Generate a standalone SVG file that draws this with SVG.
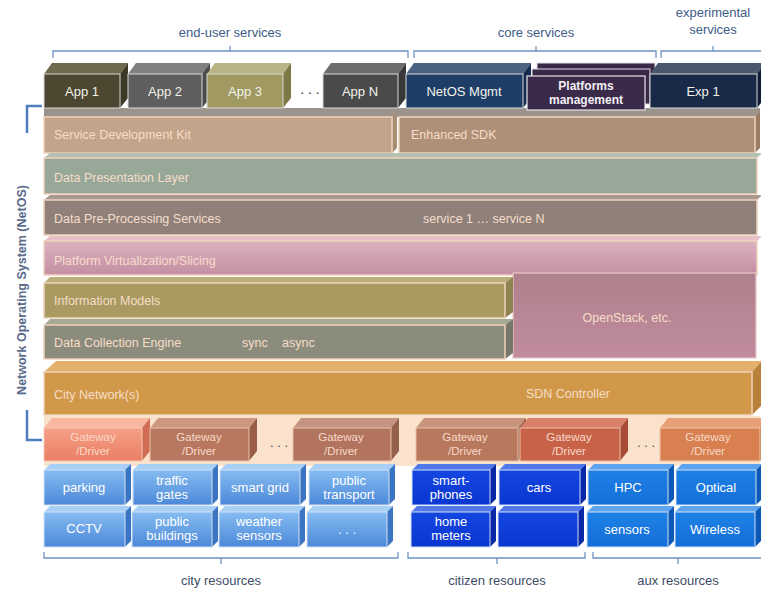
<svg xmlns="http://www.w3.org/2000/svg" width="761" height="589" viewBox="0 0 761 589">
<defs>
<style>
text{font-family:"Liberation Sans",Arial,sans-serif}
.brace{fill:none;stroke:#6f93c6;stroke-width:1.3}
.cap{fill:#3e5b86;font-size:13px;text-anchor:middle}
.capb{fill:#3d4c66;font-size:13px;text-anchor:middle}
.app{fill:#f2f2ea;font-size:13px;text-anchor:middle}
.lay{fill:#f6ddc9;font-size:12.5px}
.layc{fill:#f6ddc9;font-size:12.5px;text-anchor:middle}
.lf{stroke:#f0d2ba;stroke-width:1.5}
.gw{fill:#f7d9c8;font-size:11.5px;text-anchor:middle}
.res{fill:#ffffff;font-size:13px;text-anchor:middle}
.rf{stroke:#cfe0f5;stroke-width:1}
.af{stroke:#d8d8d8;stroke-width:1}
</style>
<linearGradient id="gCity" x1="0" y1="0" x2="0" y2="1"><stop offset="0" stop-color="#86bcf2"/><stop offset="1" stop-color="#4c88d8"/></linearGradient>
<linearGradient id="gCit" x1="0" y1="0" x2="0" y2="1"><stop offset="0" stop-color="#1446e2"/><stop offset="1" stop-color="#0a36d0"/></linearGradient>
<linearGradient id="gAux" x1="0" y1="0" x2="0" y2="1"><stop offset="0" stop-color="#1e82e6"/><stop offset="1" stop-color="#146ed8"/></linearGradient>
<linearGradient id="gPink" x1="0" y1="0" x2="0" y2="1"><stop offset="0" stop-color="#ddb2c0"/><stop offset="1" stop-color="#c48ea3"/></linearGradient>
<linearGradient id="gOS" x1="0" y1="0" x2="0" y2="1"><stop offset="0" stop-color="#b0808c"/><stop offset="1" stop-color="#c08c9e"/></linearGradient>
<linearGradient id="gGw1" x1="0" y1="0" x2="0" y2="1"><stop offset="0" stop-color="#f6a088"/><stop offset="1" stop-color="#e97e64"/></linearGradient>
</defs>
<rect width="761" height="589" fill="#ffffff"/>

<!-- braces and captions -->
<g id="captions">
<path class="brace" d="M53,58 V51 H408 V58 M230,51 V46"/>
<text class="cap" x="230" y="37">end-user services</text>
<path class="brace" d="M414,58 V51 H656 V58 M536,51 V46"/>
<text class="cap" x="536" y="37">core services</text>
<path class="brace" d="M661,58 V51 H761 M713,51 V46"/>
<text class="cap" x="713" y="17">experimental</text>
<text class="cap" x="713" y="34">services</text>
<path class="brace" d="M44,552 V558 H398 V552 M221,558 V564"/>
<text class="capb" x="221" y="585">city resources</text>
<path class="brace" d="M408,552 V558 H585 V552 M497,558 V564"/>
<text class="capb" x="497" y="585">citizen resources</text>
<path class="brace" d="M593,552 V558 H761 M678,558 V564"/>
<text class="capb" x="678" y="585">aux resources</text>
<path d="M42,106 H27 V133 M27,410 V440 H42" fill="none" stroke="#4f7fc0" stroke-width="2.5"/>
<text x="26" y="290" transform="rotate(-90 26 290)" fill="#5a6b8c" font-size="12.5" font-weight="bold" text-anchor="middle">Network Operating System (NetOS)</text>
</g>

<!-- SDK top strip -->
<rect x="44" y="108" width="716" height="9" fill="#9c948c"/>

<!-- apps -->
<g id="app1"><path d="M44,74 L52,63 H128 L120,74 Z" fill="#6e6a4e"/><path d="M120,74 L128,63 V98 L120,108 Z" fill="#3c3a26"/><rect class="af" x="44" y="74" width="76" height="34" fill="#4b4730"/><text class="app" x="82" y="96">App 1</text></g>
<g id="app2"><path d="M128,74 L136,63 H210 L202,74 Z" fill="#808080"/><path d="M202,74 L210,63 V98 L202,108 Z" fill="#4c4c4c"/><rect class="af" x="128" y="74" width="74" height="34" fill="#5e5e5e"/><text class="app" x="165" y="96">App 2</text></g>
<g id="app3"><path d="M207,74 L215,63 H291 L283,74 Z" fill="#bab386"/><path d="M283,74 L291,63 V98 L283,108 Z" fill="#7e7846"/><rect class="af" x="207" y="74" width="76" height="34" fill="#a09a62"/><text class="app" x="245" y="96">App 3</text></g>
<text x="310" y="94" fill="#333" font-size="14" text-anchor="middle" font-family="Liberation Sans,sans-serif">. . .</text>
<g id="appN"><path d="M323,74 L331,63 H406 L398,74 Z" fill="#6c6c6c"/><path d="M398,74 L406,63 V98 L398,108 Z" fill="#383838"/><rect class="af" x="323" y="74" width="75" height="34" fill="#4a4a4a"/><text class="app" x="360" y="96">App N</text></g>
<g id="netos"><path d="M406,74 L414,63 H531 L523,74 Z" fill="#4c6282"/><path d="M523,74 L531,63 V98 L523,108 Z" fill="#152c4e"/><rect class="af" x="406" y="74" width="117" height="34" fill="#1e3e68"/><text class="app" x="464" y="96">NetOS Mgmt</text></g>
<g id="platforms">
<rect x="537" y="63" width="118" height="35" fill="#3a2848" stroke="#e0dce4" stroke-width="1"/>
<rect x="532" y="69" width="118" height="35" fill="#3a2848" stroke="#e0dce4" stroke-width="1"/>
<rect x="527" y="76" width="118" height="34" fill="#3c2a4a" stroke="#e8e4ec" stroke-width="1.2"/>
<text x="586" y="90" fill="#f2f0f4" font-size="12" font-weight="bold" text-anchor="middle">Platforms</text>
<text x="586" y="104" fill="#f2f0f4" font-size="12" font-weight="bold" text-anchor="middle">management</text>
</g>
<g id="exp1"><path d="M650,74 L658,63 H765 L757,74 Z" fill="#4a586e"/><path d="M757,74 L765,63 V98 L757,108 Z" fill="#0f1e36"/><rect class="af" x="650" y="74" width="107" height="34" fill="#182a48"/><text class="app" x="703" y="96">Exp 1</text></g>

<!-- layers -->
<g id="sdk"><path d="M392,117 L397,112 V148 L392,153 Z" fill="#a88c74"/><rect class="lf" x="44" y="117" width="348" height="36" fill="#c3a48a"/><text class="lay" x="54" y="139">Service Development Kit</text></g>
<g id="esdk"><path d="M755,117 L760,112 V148 L755,153 Z" fill="#9a7c64"/><rect class="lf" x="399" y="117" width="356" height="36" fill="#ae9078"/><text class="lay" x="411" y="139">Enhanced SDK</text></g>
<g id="dpl"><path d="M44,158 L50,153 H762 L757,158 Z" fill="#b4c0b0"/><rect class="lf" x="44" y="158" width="713" height="36" fill="#98a898"/><text class="lay" x="54" y="182">Data Presentation Layer</text></g>
<g id="dps"><path d="M44,200 L50,195 H762 L757,200 Z" fill="#a89890"/><rect class="lf" x="44" y="200" width="713" height="35" fill="#8f817a"/><text class="lay" x="54" y="223">Data Pre-Processing Services</text><text class="lay" x="423" y="223">service 1  …  service N</text></g>
<g id="pvs"><path d="M44,241 L50,236 H762 L757,241 Z" fill="#e6c0c8"/><rect class="lf" x="44" y="241" width="713" height="34" fill="url(#gPink)"/><text class="lay" x="54" y="265">Platform Virtualization/Slicing</text></g>
<g id="openstack"><rect x="513" y="273" width="243" height="85" fill="url(#gOS)" stroke="#ecc8c8" stroke-width="1.2"/><text class="layc" x="627" y="322">OpenStack, etc.</text></g>
<g id="im"><path d="M44,283 L50,277 H513 L505,283 Z" fill="#bcae78"/><path d="M505,283 L513,277 V312 L505,318 Z" fill="#8e8250"/><rect class="lf" x="44" y="283" width="461" height="35" fill="#a89a60"/><text class="lay" x="54" y="305">Information Models</text></g>
<g id="dce"><path d="M44,325 L50,319 H513 L505,325 Z" fill="#a8a898"/><path d="M505,325 L513,319 V353 L505,359 Z" fill="#76766a"/><rect class="lf" x="44" y="325" width="461" height="34" fill="#8c8c7c"/><text class="lay" x="54" y="347">Data Collection Engine</text><text class="lay" x="242" y="347">sync</text><text class="lay" x="282" y="347">async</text></g>
<g id="city"><path d="M44,372 L56,361 H762 L752,372 Z" fill="#e4b06c"/><path d="M752,372 L762,361 V405 L752,415 Z" fill="#b88038"/><rect class="lf" x="44" y="372" width="708" height="43" fill="#d09848"/><text class="lay" x="54" y="399">City Network(s)</text><text class="layc" x="568" y="398">SDN Controller</text></g>

<!-- gateway backdrop -->
<rect x="44" y="416" width="716" height="50" fill="#fbe2cc"/>
<text x="279" y="447" fill="#444" font-size="13" text-anchor="middle">. . .</text>
<text x="646" y="447" fill="#444" font-size="13" text-anchor="middle">. . .</text>

<!-- gateways -->
<g id="gw1"><path d="M44,428 L52,418 H150 L142,428 Z" fill="#f8b8a0"/><path d="M142,428 L150,418 V451 L142,461 Z" fill="#d06c54"/><rect x="44" y="428" width="98" height="33" fill="url(#gGw1)" stroke="#f6c8b4"/><text class="gw" x="93" y="441">Gateway</text><text class="gw" x="93" y="455">/Driver</text></g>
<g id="gw2"><path d="M150,428 L158,418 H257 L249,428 Z" fill="#cc9880"/><path d="M249,428 L257,418 V451 L249,461 Z" fill="#9a5e48"/><rect x="150" y="428" width="99" height="33" fill="#b87860" stroke="#e8c0a8"/><text class="gw" x="199" y="441">Gateway</text><text class="gw" x="199" y="455">/Driver</text></g>
<g id="gw3"><path d="M293,428 L301,418 H399 L391,428 Z" fill="#c49480"/><path d="M391,428 L399,418 V451 L391,461 Z" fill="#94604c"/><rect x="293" y="428" width="98" height="33" fill="#b2745e" stroke="#e8c0a8"/><text class="gw" x="341" y="441">Gateway</text><text class="gw" x="341" y="455">/Driver</text></g>
<g id="gw4"><path d="M416,428 L424,418 H526 L518,428 Z" fill="#c8947c"/><path d="M518,428 L526,418 V451 L518,461 Z" fill="#98624a"/><rect x="416" y="428" width="102" height="33" fill="#b8785e" stroke="#e8c0a8"/><text class="gw" x="465" y="441">Gateway</text><text class="gw" x="465" y="455">/Driver</text></g>
<g id="gw5"><path d="M520,428 L528,418 H628 L620,428 Z" fill="#d88068"/><path d="M620,428 L628,418 V451 L620,461 Z" fill="#a84c36"/><rect x="520" y="428" width="100" height="33" fill="#c86248" stroke="#ecc0a8"/><text class="gw" x="569" y="441">Gateway</text><text class="gw" x="569" y="455">/Driver</text></g>
<g id="gw6"><path d="M660,428 L668,418 H768 L760,428 Z" fill="#e8a078"/><path d="M760,428 L768,418 V451 L760,461 Z" fill="#b06438"/><rect x="660" y="428" width="100" height="33" fill="#d88050" stroke="#f0c8a8"/><text class="gw" x="708" y="441">Gateway</text><text class="gw" x="708" y="455">/Driver</text></g>

<!-- city resources -->
<g id="parking"><path d="M44,470 L50,464 H131 L125,470 Z" fill="#a8d0f6"/><path d="M125,470 L131,464 V499 L125,505 Z" fill="#3c74c4"/><rect class="rf" x="44" y="470" width="81" height="35" fill="url(#gCity)"/><text class="res" x="84" y="492">parking</text></g>
<g id="traffic"><path d="M133,470 L139,464 H218 L212,470 Z" fill="#a8d0f6"/><path d="M212,470 L218,464 V499 L212,505 Z" fill="#3c74c4"/><rect class="rf" x="133" y="470" width="79" height="35" fill="url(#gCity)"/><text class="res" x="172" y="485">traffic</text><text class="res" x="172" y="499">gates</text></g>
<g id="smartgrid"><path d="M220,470 L226,464 H306 L300,470 Z" fill="#a8d0f6"/><path d="M300,470 L306,464 V499 L300,505 Z" fill="#3c74c4"/><rect class="rf" x="220" y="470" width="80" height="35" fill="url(#gCity)"/><text class="res" x="260" y="492">smart grid</text></g>
<g id="transport"><path d="M309,470 L315,464 H395 L389,470 Z" fill="#a8d0f6"/><path d="M389,470 L395,464 V499 L389,505 Z" fill="#3c74c4"/><rect class="rf" x="309" y="470" width="80" height="35" fill="url(#gCity)"/><text class="res" x="349" y="485">public</text><text class="res" x="349" y="499">transport</text></g>
<g id="cctv"><path d="M44,512 L50,506 H131 L125,512 Z" fill="#a8d0f6"/><path d="M125,512 L131,506 V541 L125,547 Z" fill="#3c74c4"/><rect class="rf" x="44" y="512" width="81" height="35" fill="url(#gCity)"/><text class="res" x="84" y="533">CCTV</text></g>
<g id="buildings"><path d="M132,512 L138,506 H218 L212,512 Z" fill="#a8d0f6"/><path d="M212,512 L218,506 V541 L212,547 Z" fill="#3c74c4"/><rect class="rf" x="132" y="512" width="80" height="35" fill="url(#gCity)"/><text class="res" x="172" y="526">public</text><text class="res" x="172" y="540">buildings</text></g>
<g id="weather"><path d="M219,512 L225,506 H305 L299,512 Z" fill="#a8d0f6"/><path d="M299,512 L305,506 V541 L299,547 Z" fill="#3c74c4"/><rect class="rf" x="219" y="512" width="80" height="35" fill="url(#gCity)"/><text class="res" x="259" y="526">weather</text><text class="res" x="259" y="540">sensors</text></g>
<g id="citymore"><path d="M307,512 L313,506 H393 L387,512 Z" fill="#a8d0f6"/><path d="M387,512 L393,506 V541 L387,547 Z" fill="#3c74c4"/><rect class="rf" x="307" y="512" width="80" height="35" fill="url(#gCity)"/><text class="res" x="347" y="534">. . .</text></g>

<!-- citizen resources -->
<g id="phones"><path d="M412,470 L418,464 H496 L490,470 Z" fill="#5078ea"/><path d="M490,470 L496,464 V499 L490,505 Z" fill="#0828a8"/><rect class="rf" x="412" y="470" width="78" height="35" fill="url(#gCit)"/><text class="res" x="451" y="485">smart-</text><text class="res" x="451" y="499">phones</text></g>
<g id="cars"><path d="M499,470 L505,464 H586 L580,470 Z" fill="#5078ea"/><path d="M580,470 L586,464 V499 L580,505 Z" fill="#0828a8"/><rect class="rf" x="499" y="470" width="81" height="35" fill="url(#gCit)"/><text class="res" x="539" y="492">cars</text></g>
<g id="meters"><path d="M411,512 L417,506 H496 L490,512 Z" fill="#5078ea"/><path d="M490,512 L496,506 V541 L490,547 Z" fill="#0828a8"/><rect class="rf" x="411" y="512" width="79" height="35" fill="url(#gCit)"/><text class="res" x="451" y="526">home</text><text class="res" x="451" y="540">meters</text></g>
<g id="citblank"><path d="M498,512 L504,506 H584 L578,512 Z" fill="#5078ea"/><path d="M578,512 L584,506 V541 L578,547 Z" fill="#0828a8"/><rect class="rf" x="498" y="512" width="80" height="35" fill="url(#gCit)"/></g>

<!-- aux resources -->
<g id="hpc"><path d="M588,470 L594,464 H674 L668,470 Z" fill="#5ca4ee"/><path d="M668,470 L674,464 V499 L668,505 Z" fill="#0c58b8"/><rect class="rf" x="588" y="470" width="80" height="35" fill="url(#gAux)"/><text class="res" x="628" y="492">HPC</text></g>
<g id="optical"><path d="M676,470 L682,464 H762 L756,470 Z" fill="#5ca4ee"/><path d="M756,470 L762,464 V499 L756,505 Z" fill="#0c58b8"/><rect class="rf" x="676" y="470" width="80" height="35" fill="url(#gAux)"/><text class="res" x="716" y="492">Optical</text></g>
<g id="sensors"><path d="M587,512 L593,506 H674 L668,512 Z" fill="#5ca4ee"/><path d="M668,512 L674,506 V541 L668,547 Z" fill="#0c58b8"/><rect class="rf" x="587" y="512" width="81" height="35" fill="url(#gAux)"/><text class="res" x="627" y="534">sensors</text></g>
<g id="wireless"><path d="M675,512 L681,506 H761 L755,512 Z" fill="#5ca4ee"/><path d="M755,512 L761,506 V541 L755,547 Z" fill="#0c58b8"/><rect class="rf" x="675" y="512" width="80" height="35" fill="url(#gAux)"/><text class="res" x="715" y="534">Wireless</text></g>

<g id="connectors"></g>
</svg>
